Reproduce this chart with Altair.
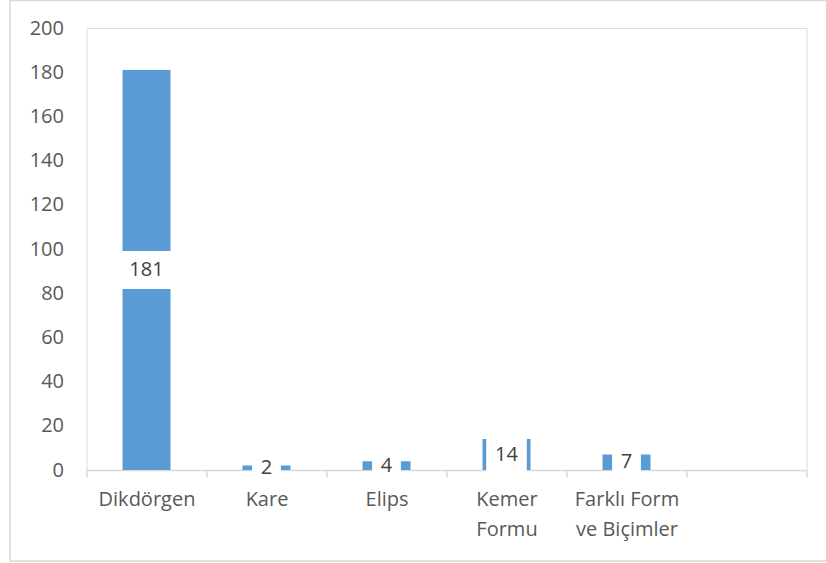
import altair as alt
import pandas as pd

categories = ["Dikdörgen", "Kare", "Elips", "Kemer\nFormu", "Farklı Form\nve Biçimler", ""]
values = [181, 2, 4, 14, 7, None]
y_ticks = [0, 20, 40, 60, 80, 100, 120, 140, 160, 180, 200]

df = pd.DataFrame({"cat": categories, "val": values})

FONT = "Open Sans"
BAR = "#5B9BD5"

x_enc = alt.X(
    "cat:N",
    sort=categories,
    scale=alt.Scale(paddingInner=0, paddingOuter=0),
    axis=alt.Axis(
        title=None,
        labelAngle=0,
        labelFont=FONT,
        labelFontSize=20,
        labelColor="#595959",
        labelPadding=12,
        labelLineHeight=30,
        labelExpr="isValid(datum.value) ? split(datum.value, '\\n') : ''",
        domainColor="#d9d9d9",
        domainWidth=1.5,
        tickColor="#d9d9d9",
        tickWidth=1.5,
        tickSize=7,
        tickBand="extent",
        grid=False,
    ),
)

y_scale = alt.Scale(domain=[0, 200], nice=False, zero=True)
y_axis = alt.Axis(
    title=None,
    values=y_ticks,
    labelFont=FONT,
    labelFontSize=20,
    labelColor="#595959",
    labelPadding=23,
    ticks=False,
    tickSize=0,
    domain=False,
    grid=False,
)

base = alt.Chart(df)

frame = alt.Chart(alt.Data(values=[{}])).mark_rect(
    fill=None, stroke="#d9d9d9", strokeWidth=1.5
).encode(
    x=alt.value(-76.5),
    x2=alt.value(746),
    y=alt.value(-27.5),
    y2=alt.value(533),
)

bars = base.mark_bar(color=BAR, width=48).encode(
    x=x_enc,
    y=alt.Y("val:Q", scale=y_scale, axis=y_axis),
)

lab = base.transform_filter("isValid(datum.val)").transform_calculate(
    lbl="toString(datum.val)",
    mid="datum.val / 2",
    lo="datum.val / 2 - 8.6",
    hi="datum.val / 2 + 8.6",
    bw="min(50, 17 + 11.8 * length(toString(datum.val)))",
)

boxes = lab.mark_bar(color="white").encode(
    x=alt.X("cat:N", sort=categories),
    y=alt.Y("lo:Q", scale=y_scale),
    y2="hi:Q",
    size=alt.Size("bw:Q", scale=None, legend=None),
)

texts = lab.mark_text(
    font=FONT, fontSize=20, color="#404040", baseline="middle", align="center"
).encode(
    x=alt.X("cat:N", sort=categories),
    y=alt.Y("mid:Q", scale=y_scale),
    text="lbl:N",
)

chart = (
    alt.layer(frame, bars, boxes, texts)
    .properties(
        width=720,
        height=442,
        autosize=alt.AutoSizeParams(type="none"),
        padding={"left": 86.5, "top": 28, "right": 19.5, "bottom": 93},
    )
    .configure_view(stroke=None)
    .configure(background="white")
)

chart.save("out.html", embed_options={"renderer": "svg", "actions": False})
